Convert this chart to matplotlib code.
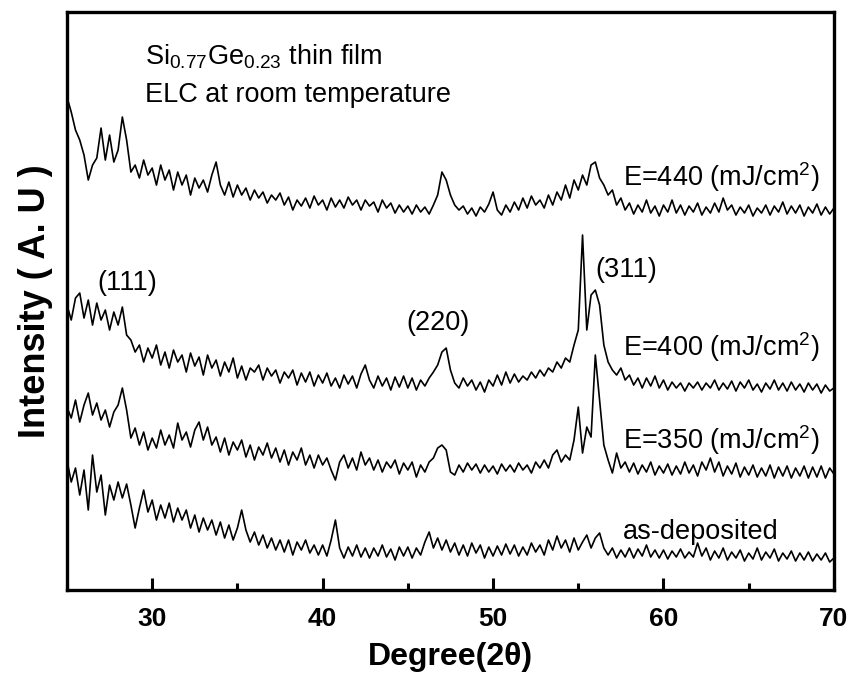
import numpy as np
import matplotlib
matplotlib.use('Agg')
import matplotlib.pyplot as plt
from matplotlib.ticker import MultipleLocator

plt.rcParams['font.family'] = ['Liberation Sans', 'DejaVu Sans']
plt.rcParams['mathtext.fontset'] = 'custom'
plt.rcParams['mathtext.rm'] = 'Liberation Sans'
plt.rcParams['mathtext.it'] = 'Liberation Sans:italic'

# 2-theta grid (degrees), 0.25 step from 25 to 70
two_theta = np.arange(25.0, 70.001, 0.25)

# intensities (a.u., already stacked)
e440 = [493, 478, 460, 450, 435, 410, 425, 432, 462, 430, 455, 428, 440, 473, 450, 418, 425, 412, 430, 415,
        422, 405, 425, 410, 420, 400, 418, 405, 415, 395, 412, 402, 410, 398, 415, 428, 405, 395, 408, 393,
        405, 395, 402, 390, 400, 392, 398, 387, 395, 390, 397, 385, 393, 380, 390, 384, 392, 382, 394, 385,
        390, 380, 392, 383, 390, 382, 393, 385, 390, 380, 390, 384, 388, 378, 390, 382, 387, 377, 385, 378,
        384, 376, 385, 378, 383, 376, 385, 395, 418, 410, 395, 385, 380, 384, 376, 382, 374, 383, 378, 386,
        398, 380, 375, 385, 378, 388, 380, 392, 382, 394, 385, 390, 382, 395, 385, 398, 390, 405, 392, 410,
        400, 415, 405, 425, 428, 412, 405, 395, 400, 385, 392, 380, 387, 376, 385, 378, 390, 377, 384, 374,
        385, 378, 390, 377, 385, 375, 384, 378, 387, 375, 383, 377, 387, 378, 392, 380, 385, 375, 383, 377,
        385, 374, 382, 377, 385, 375, 384, 378, 388, 376, 384, 377, 385, 374, 383, 377, 386, 375, 383, 376,
        382]

e400 = [285, 270, 292, 297, 272, 290, 265, 287, 270, 280, 260, 278, 265, 283, 255, 250, 238, 245, 228, 242,
        232, 245, 225, 238, 222, 240, 228, 235, 218, 237, 224, 233, 215, 235, 222, 230, 214, 228, 218, 232,
        212, 224, 210, 222, 218, 225, 210, 222, 214, 220, 207, 218, 212, 220, 205, 217, 208, 218, 204, 215,
        207, 217, 204, 212, 202, 215, 206, 214, 202, 216, 225, 210, 202, 214, 204, 212, 200, 213, 203, 214,
        202, 212, 200, 210, 204, 212, 218, 225, 238, 242, 220, 207, 202, 212, 204, 210, 200, 208, 198, 210,
        204, 215, 205, 218, 207, 216, 208, 214, 210, 218, 212, 220, 214, 222, 218, 228, 222, 232, 228, 245,
        260, 355, 260, 295, 300, 285, 245, 228, 220, 215, 222, 210, 215, 205, 212, 202, 212, 204, 214, 202,
        210, 200, 208, 202, 207, 199, 207, 202, 208, 200, 207, 202, 210, 200, 207, 201, 209, 199, 208, 202,
        210, 200, 206, 198, 207, 201, 210, 200, 207, 199, 208, 200, 206, 198, 207, 200, 206, 197, 205, 199,
        202]

e350 = [183, 172, 190, 168, 185, 197, 175, 187, 170, 180, 163, 178, 185, 202, 180, 152, 162, 145, 158, 140,
        152, 142, 160, 145, 155, 142, 167, 150, 158, 143, 160, 168, 150, 163, 145, 153, 138, 152, 135, 148,
        140, 150, 133, 145, 130, 143, 135, 147, 132, 142, 128, 140, 125, 138, 130, 142, 125, 135, 122, 135,
        125, 132, 120, 110, 128, 135, 122, 132, 120, 138, 125, 132, 120, 130, 118, 128, 122, 130, 116, 127,
        120, 128, 113, 125, 118, 128, 132, 142, 145, 140, 118, 115, 125, 118, 127, 120, 126, 117, 125, 118,
        124, 116, 126, 119, 125, 118, 127, 120, 125, 117, 128, 122, 130, 122, 135, 140, 128, 135, 130, 150,
        183, 137, 163, 153, 235, 190, 145, 130, 117, 137, 122, 128, 118, 127, 116, 125, 118, 128, 115, 124,
        117, 126, 115, 124, 116, 128, 117, 125, 114, 128, 120, 132, 118, 128, 114, 124, 116, 127, 113, 123,
        115, 125, 113, 122, 114, 125, 112, 123, 114, 124, 112, 122, 114, 124, 112, 123, 113, 124, 112, 122,
        116]

as_dep = [130, 108, 122, 95, 120, 80, 135, 98, 115, 75, 105, 90, 108, 92, 106, 85, 62, 82, 100, 78,
          90, 70, 85, 72, 87, 68, 82, 70, 80, 62, 75, 58, 72, 60, 70, 55, 68, 52, 65, 50,
          62, 80, 60, 48, 58, 45, 55, 42, 52, 40, 50, 38, 50, 35, 48, 40, 50, 37, 45, 35,
          45, 34, 50, 70, 42, 32, 43, 34, 45, 33, 42, 32, 42, 34, 45, 33, 41, 30, 43, 34,
          43, 32, 42, 35, 48, 58, 42, 52, 40, 50, 38, 47, 35, 45, 34, 47, 37, 45, 32, 43,
          34, 44, 35, 46, 36, 45, 34, 43, 35, 47, 38, 45, 35, 50, 40, 54, 42, 50, 38, 52,
          40, 48, 55, 42, 52, 57, 42, 35, 42, 32, 40, 33, 42, 32, 41, 34, 45, 33, 40, 32,
          40, 31, 39, 33, 41, 32, 38, 33, 47, 34, 42, 30, 39, 32, 42, 30, 38, 32, 40, 29,
          37, 31, 42, 30, 38, 32, 41, 29, 37, 31, 39, 29, 37, 30, 38, 29, 36, 30, 37, 28,
          32]

curve_labels = ['E=440 (mJ/cm$^{2}$)', 'E=400 (mJ/cm$^{2}$)', 'E=350 (mJ/cm$^{2}$)', 'as-deposited']
label_y = [413, 243, 150, 58]
peak_labels = ['(111)', '(220)', '(311)']
peak_x = [26.8, 44.9, 56.0]
peak_y = [307, 267, 320]

fig = plt.figure(figsize=(8.52, 6.73), dpi=100)
ax = fig.add_axes([0.0786, 0.1233, 0.9002, 0.8588])

for y in [e440, e400, e350, as_dep]:
    ax.plot(two_theta, y, color='black', lw=1.2)

ax.set_xlim(25, 70)
ax.set_ylim(0, 578)
ax.xaxis.set_major_locator(MultipleLocator(10))
ax.xaxis.set_minor_locator(MultipleLocator(5))
ax.tick_params(axis='x', which='major', direction='in', length=9, width=2.2,
               labelsize=19, pad=12)
ax.tick_params(axis='x', which='minor', direction='in', length=5, width=2.2)
ax.set_yticks([])
for lbl in ax.get_xticklabels():
    lbl.set_fontweight('bold')
for s in ax.spines.values():
    s.set_linewidth(2.4)

ax.set_xlabel('Degree(2θ)', fontsize=23, fontweight='bold', labelpad=8)
ax.set_ylabel('Intensity ( A. U )', fontsize=26, fontweight='bold', labelpad=10)

ax.text(29.6, 533, 'Si$_{\\mathrm{0.77}}$Ge$_{\\mathrm{0.23}}$ thin film', fontsize=19.5, va='center')
ax.text(29.6, 495, 'ELC at room temperature', fontsize=19.5, va='center')

for txt, yy in zip(curve_labels, label_y):
    ax.text(57.6, yy, txt, fontsize=19.5, va='center')
for txt, xx, yy in zip(peak_labels, peak_x, peak_y):
    ax.text(xx, yy, txt, fontsize=19.5, va='center')

fig.savefig('out.png', dpi=100)
